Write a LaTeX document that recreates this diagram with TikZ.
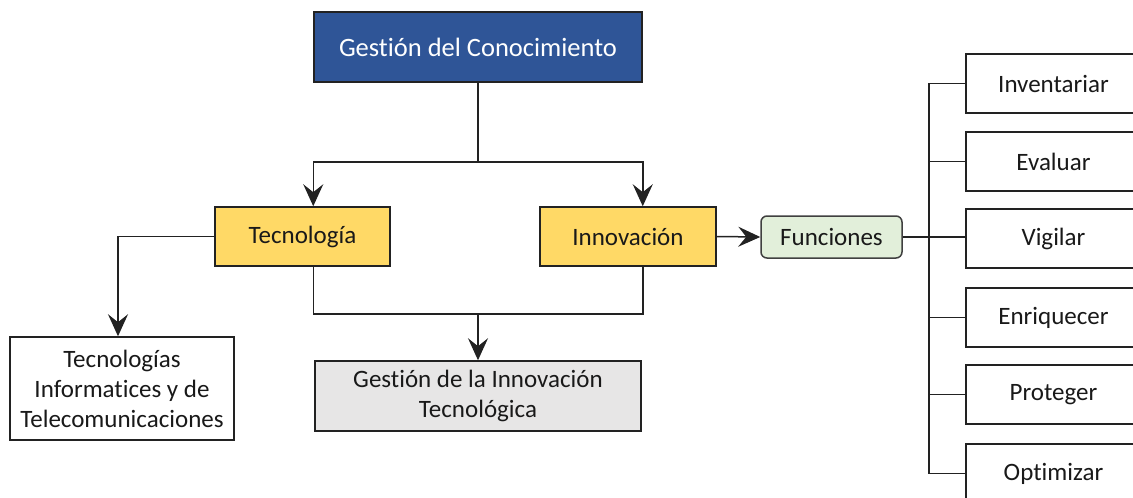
\documentclass[tikz,border=0pt]{standalone}
\usepackage{fontspec}
\setmainfont{Carlito}[Ligatures=NoCommon]
\usetikzlibrary{arrows.meta}
\definecolor{tblue}{HTML}{2F5597}
\definecolor{tyellow}{HTML}{FFD966}
\definecolor{tgrey}{HTML}{E7E6E6}
\definecolor{tgreen}{HTML}{E2EFDA}
\definecolor{tline}{HTML}{222222}
\tikzset{
  box/.style={draw=tline, line width=1.5pt, align=center, inner sep=2pt,
    font=\fontsize{25}{30}\selectfont, text=black!90},
  con/.style={draw=tline, line width=1.5pt},
  arr/.style={con, -{Stealth[length=22pt,width=20pt,inset=8pt]}},
}
\begin{document}
\begin{tikzpicture}[x=1pt,y=-1pt]
\useasboundingbox (0,0) rectangle (1133,498);
\clip (0,0) rectangle (1133,498);
\fill[white] (0,0) rectangle (1133,498);

\node[box, fill=tblue, text=white, minimum width=328pt, minimum height=70pt,
  font=\fontsize{26.5}{30}\selectfont] (gc) at (478,47) {Gestión del Conocimiento};
\node[box, fill=tyellow, minimum width=175pt, minimum height=59pt] (tec) at (302.5,236.5) {Tecnología};
\node[box, fill=tyellow, minimum width=176pt, minimum height=59pt] (inn) at (628,236.5) {Innovación};
\node[box, fill=white, minimum width=224pt, minimum height=103pt] (tic) at (122,388.5)
  {Tecnologías\\Informatices y de\\Telecomunicaciones};
\node[box, fill=tgrey, minimum width=326pt, minimum height=70pt] (git) at (478,396)
  {Gestión de la Innovación\\Tecnológica};
\node[box, fill=tgreen, draw=black!75, rounded corners=6pt, minimum width=141pt, minimum height=42pt] (fun) at (831.5,237) {Funciones};

\node[box, fill=white, minimum width=175pt, minimum height=59pt] (inv) at (1053.5,83.5) {Inventariar};
\node[box, fill=white, minimum width=175pt, minimum height=59pt] (eva) at (1053.5,161.5) {Evaluar};
\node[box, fill=white, minimum width=175pt, minimum height=59pt] (vig) at (1053.5,238.5) {Vigilar};
\node[box, fill=white, minimum width=175pt, minimum height=59pt] (enr) at (1053.5,317.5) {Enriquecer};
\node[box, fill=white, minimum width=175pt, minimum height=59pt] (pro) at (1053.5,394.5) {Proteger};
\node[box, fill=white, minimum width=175pt, minimum height=59pt] (opt) at (1053.5,473.5) {Optimizar};

% top branch
\coordinate (jt) at (478,162);
\draw[con] (gc.south) -- (jt);
\draw[arr] (jt) -| (tec.north -| gc.west);
\draw[arr] (jt) -| (inn.north -| gc.east);

% to TIC
\coordinate (tx) at (118,0);
\draw[arr] (tec.west) -| (tic.north -| tx);

% merge to GIT
\coordinate (jb) at (478,314);
\draw[con] (tec.south -| gc.west) |- (jb) -| (inn.south -| gc.east);
\draw[arr] (jb) -- (git.north);

% to Funciones
\draw[arr] (inn.east) -- (fun.west);

% bus
\coordinate (bus) at (929,0);
\draw[con] (fun.east) -- (fun.east -| vig.west);
\draw[con] (inv.west) -- (inv.west -| bus) -- (opt.west -| bus) -- (opt.west);
\draw[con] (eva.west) -- (eva.west -| bus);
\draw[con] (enr.west) -- (enr.west -| bus);
\draw[con] (pro.west) -- (pro.west -| bus);
\end{tikzpicture}
\end{document}
